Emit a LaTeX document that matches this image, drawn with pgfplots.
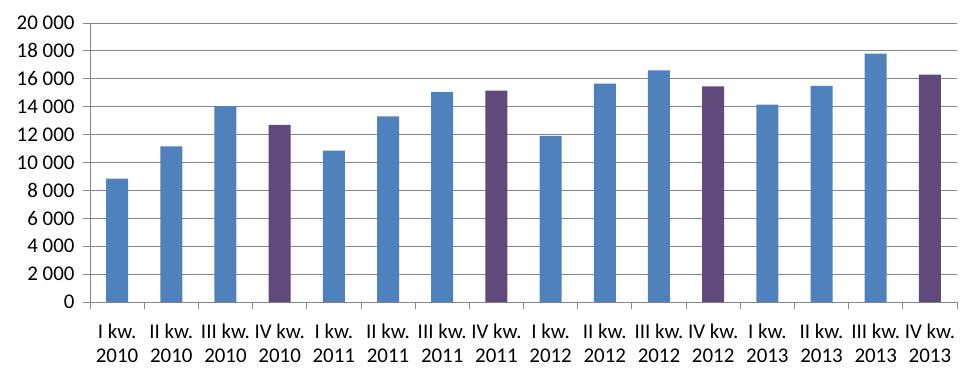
\documentclass[border=0pt]{standalone}
\usepackage{pgfplots}
\pgfplotsset{compat=1.18}
\usepackage{fontspec}
\setmainfont{Carlito}
\definecolor{barblue}{HTML}{4F81BD}
\definecolor{barpurple}{HTML}{604A7B}
\definecolor{gridgray}{HTML}{868686}
\begin{document}
\begin{tikzpicture}[x=1bp,y=1bp]
\useasboundingbox (0,0) rectangle (980,380);
\begin{axis}[
  at={(90bp,78bp)}, anchor=south west,
  scale only axis, width=867bp, height=279bp,
  xmin=-0.5, xmax=15.5, ymin=0, ymax=20000,
  axis x line*=bottom, axis y line*=left,
  axis line style={gridgray, line width=0.8pt, -},
  ymajorgrids, grid style={gridgray, line width=0.8pt},
  ytick={0,2000,...,20000},
  xtick={-0.5,0.5,...,15.5},
  x tick label as interval,
  xticklabels={{I kw.\\2010},{II kw.\\2010},{III kw.\\2010},{IV kw.\\2010},
               {I kw.\\2011},{II kw.\\2011},{III kw.\\2011},{IV kw.\\2011},
               {I kw.\\2012},{II kw.\\2012},{III kw.\\2012},{IV kw.\\2012},
               {I kw.\\2013},{II kw.\\2013},{III kw.\\2013},{IV kw.\\2013}},
  tick align=outside, major tick length=7bp,
  tick style={gridgray, line width=0.8pt},
  scaled y ticks=false,
  yticklabel style={/pgf/number format/1000 sep={\ }, /pgf/number format/assume math mode=true, font=\fontsize{21}{25}\selectfont, xshift=-5bp},
  xticklabel style={align=center, font=\fontsize{21}{25}\selectfont, yshift=-11bp},
  ybar, bar width=22bp, bar shift=0pt,
]
\addplot[fill=barblue, draw=none] coordinates {
 (0,8850) (1,11150) (2,14050) (4,10850) (5,13300) (6,15050)
 (8,11900) (9,15650) (10,16600) (12,14150) (13,15500) (14,17800)};
\addplot[fill=barpurple, draw=none] coordinates {
 (3,12700) (7,15150) (11,15450) (15,16300)};
\end{axis}
\end{tikzpicture}
\end{document}
